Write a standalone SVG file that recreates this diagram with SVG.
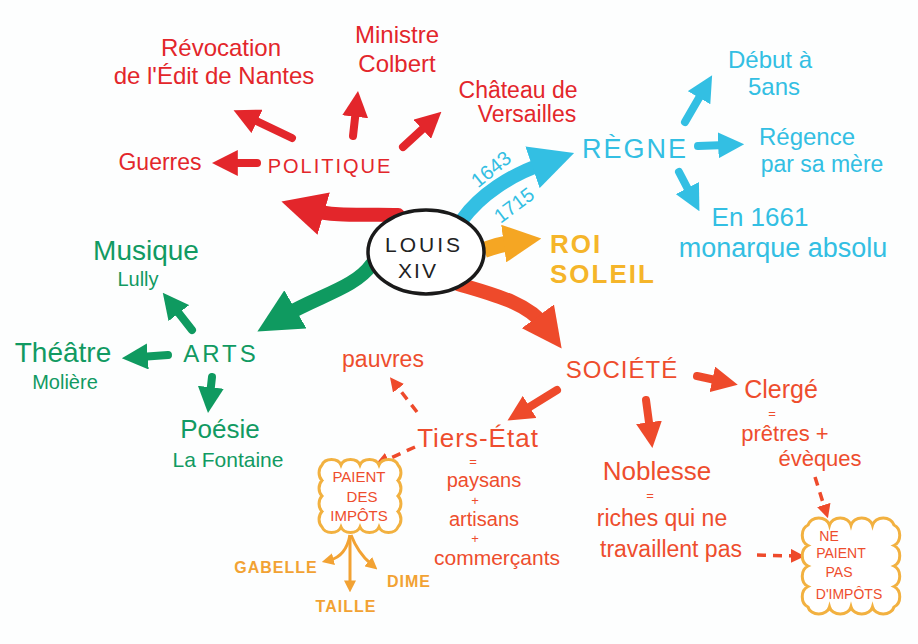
<svg xmlns="http://www.w3.org/2000/svg" width="918" height="644" viewBox="0 0 918 644">
<defs>
<style>
text{font-family:"Liberation Sans",Arial,sans-serif;text-anchor:middle}
.red{fill:#e3262b}
.cyan{fill:#33bfe3}
.yel{fill:#f5b52a}
.org{fill:#ee4d2d}
.grn{fill:#119a62}
.tax{fill:#f2a233;font-weight:bold}
.blk{fill:#222}
.sr{stroke:#e3262b;fill:none}
.sc{stroke:#33bfe3;fill:none}
.sy{stroke:#f5a623;fill:none}
.so{stroke:#ee4a2b;fill:none}
.sg{stroke:#0f9a60;fill:none}
.st{stroke:#f2a233;fill:none;stroke-width:3}
.big{stroke-width:14;stroke-linecap:round}
.mid{stroke-width:8;stroke-linecap:round}
.dash{stroke-width:3.5;stroke-dasharray:9 7}
.cloud{fill:#fff;stroke:#f2b140;stroke-width:3}
</style>
<marker id="mR" viewBox="0 0 10 10" refX="3" refY="5" markerWidth="26" markerHeight="26" markerUnits="userSpaceOnUse" orient="auto"><path d="M0,0L10,5L0,10z" fill="#e3262b"/></marker>
<marker id="mRB" viewBox="0 0 10 10" refX="3" refY="5" markerWidth="44" markerHeight="44" markerUnits="userSpaceOnUse" orient="auto"><path d="M0,0L10,5L0,10z" fill="#e3262b"/></marker>
<marker id="mC" viewBox="0 0 10 10" refX="3" refY="5" markerWidth="26" markerHeight="26" markerUnits="userSpaceOnUse" orient="auto"><path d="M0,0L10,5L0,10z" fill="#33bfe3"/></marker>
<marker id="mCB" viewBox="0 0 10 10" refX="3" refY="5" markerWidth="44" markerHeight="44" markerUnits="userSpaceOnUse" orient="auto"><path d="M0,0L10,5L0,10z" fill="#33bfe3"/></marker>
<marker id="mYB" viewBox="0 0 10 10" refX="3" refY="5" markerWidth="38" markerHeight="38" markerUnits="userSpaceOnUse" orient="auto"><path d="M0,0L10,5L0,10z" fill="#f5a623"/></marker>
<marker id="mO" viewBox="0 0 10 10" refX="3" refY="5" markerWidth="26" markerHeight="26" markerUnits="userSpaceOnUse" orient="auto"><path d="M0,0L10,5L0,10z" fill="#ee4a2b"/></marker>
<marker id="mOB" viewBox="0 0 10 10" refX="3" refY="5" markerWidth="40" markerHeight="40" markerUnits="userSpaceOnUse" orient="auto"><path d="M0,0L10,5L0,10z" fill="#ee4a2b"/></marker>
<marker id="mOD" viewBox="0 0 10 10" refX="3" refY="5" markerWidth="14" markerHeight="14" markerUnits="userSpaceOnUse" orient="auto"><path d="M0,0L10,5L0,10z" fill="#ee4a2b"/></marker>
<marker id="mG" viewBox="0 0 10 10" refX="3" refY="5" markerWidth="26" markerHeight="26" markerUnits="userSpaceOnUse" orient="auto"><path d="M0,0L10,5L0,10z" fill="#0f9a60"/></marker>
<marker id="mGB" viewBox="0 0 10 10" refX="3" refY="5" markerWidth="44" markerHeight="44" markerUnits="userSpaceOnUse" orient="auto"><path d="M0,0L10,5L0,10z" fill="#0f9a60"/></marker>
<marker id="mT" viewBox="0 0 10 10" refX="3" refY="5" markerWidth="12" markerHeight="12" markerUnits="userSpaceOnUse" orient="auto"><path d="M0,0L10,5L0,10z" fill="#f2a233"/></marker>
</defs>
<rect width="918" height="644" fill="#fdfefe"/>

<g id="connectors">
<path class="sr big" d="M398,215 C365,214 335,217 311,210" marker-end="url(#mRB)"/>
<path class="sc big" d="M462,220 C480,195 510,175 545,163" marker-end="url(#mCB)"/>
<path class="sy" stroke-width="16" d="M484,250 Q500,244 515,242" marker-end="url(#mYB)"/>
<path class="so big" d="M458,284 C495,295 528,303 545,326" marker-end="url(#mOB)"/>
<path class="sg big" d="M372,264 C355,288 320,295 284,316" marker-end="url(#mGB)"/>

<path class="sr mid" d="M257,163 L230,163" marker-end="url(#mR)"/>
<path class="sr mid" d="M292,138 L250,118" marker-end="url(#mR)"/>
<path class="sr mid" d="M353,136 L356,109" marker-end="url(#mR)"/>
<path class="sr mid" d="M403,147 L428,124" marker-end="url(#mR)"/>

<path class="sc mid" d="M685,122 L703,91" marker-end="url(#mC)"/>
<path class="sc mid" d="M698,146 L726,145" marker-end="url(#mC)"/>
<path class="sc mid" d="M679,172 L691,195" marker-end="url(#mC)"/>

<path class="sg mid" d="M192,330 L174,307" marker-end="url(#mG)"/>
<path class="sg mid" d="M168,355 L140,357" marker-end="url(#mG)"/>
<path class="sg mid" d="M212,377 L210,395" marker-end="url(#mG)"/>

<path class="so mid" d="M697,376 L720,381" marker-end="url(#mO)"/>
<path class="so mid" d="M646,400 L650,430" marker-end="url(#mO)"/>
<path class="so mid" d="M557,390 L523,411" marker-end="url(#mO)"/>

<path class="so dash" d="M417,412 L396,385" marker-end="url(#mOD)"/>
<path class="so dash" d="M415,447 L384,461" marker-end="url(#mOD)"/>
<path class="so dash" d="M815,477 L825,509" marker-end="url(#mOD)"/>
<path class="so dash" d="M757,555 L795,556" marker-end="url(#mOD)"/>

<path class="st" d="M350,535 Q346,556 330,560" marker-end="url(#mT)"/>
<path class="st" d="M350,535 L350,584" marker-end="url(#mT)"/>
<path class="st" d="M351,535 Q358,553 371,564" marker-end="url(#mT)"/>
</g>

<g id="louis">
<ellipse cx="426" cy="252" rx="58" ry="42" fill="#fff" stroke="#1a1a1a" stroke-width="3.5"/>
<text class="blk" x="424" y="252" font-size="21" letter-spacing="3">LOUIS</text>
<text class="blk" x="418" y="278" font-size="21" letter-spacing="2">XIV</text>
</g>

<g id="politique">
<text class="red" x="330" y="173" font-size="20" letter-spacing="2">POLITIQUE</text>
</g>
<g id="guerres"><text class="red" x="160" y="170" font-size="23">Guerres</text></g>
<g id="revocation">
<text class="red" x="221" y="56" font-size="24">Révocation</text>
<text class="red" x="214" y="84" font-size="24">de l'Édit de Nantes</text>
</g>
<g id="colbert">
<text class="red" x="397" y="43" font-size="24">Ministre</text>
<text class="red" x="397" y="72" font-size="24">Colbert</text>
</g>
<g id="versailles">
<text class="red" x="518" y="98" font-size="23">Château de</text>
<text class="red" x="527" y="122" font-size="23">Versailles</text>
</g>

<g id="regne">
<text class="cyan" x="635" y="158" font-size="27" letter-spacing="2">RÈGNE</text>
<text class="cyan" x="491" y="176" font-size="20" transform="rotate(-39 491 169)">1643</text>
<text class="cyan" x="514" y="212" font-size="20" transform="rotate(-37 514 205)">1715</text>
</g>
<g id="debut">
<text class="cyan" x="770" y="68" font-size="24">Début à</text>
<text class="cyan" x="774" y="95" font-size="24">5ans</text>
</g>
<g id="regence">
<text class="cyan" x="807" y="145" font-size="24">Régence</text>
<text class="cyan" x="822" y="172" font-size="23">par sa mère</text>
</g>
<g id="absolu">
<text class="cyan" x="760" y="226" font-size="26">En 1661</text>
<text class="cyan" x="783" y="257" font-size="27">monarque absolu</text>
</g>

<g id="roisoleil">
<text class="yel" x="550" y="253" font-size="26" font-weight="bold" letter-spacing="2" style="text-anchor:start">ROI</text>
<text class="yel" x="550" y="283" font-size="26" font-weight="bold" letter-spacing="2" style="text-anchor:start">SOLEIL</text>
</g>

<g id="arts"><text class="grn" x="221" y="362" font-size="24" letter-spacing="3">ARTS</text></g>
<g id="musique">
<text class="grn" x="146" y="260" font-size="28">Musique</text>
<text class="grn" x="138" y="286" font-size="20">Lully</text>
</g>
<g id="theatre">
<text class="grn" x="63" y="362" font-size="28">Théâtre</text>
<text class="grn" x="65" y="389" font-size="20">Molière</text>
</g>
<g id="poesie">
<text class="grn" x="220" y="438" font-size="26">Poésie</text>
<text class="grn" x="228" y="467" font-size="21">La Fontaine</text>
</g>

<g id="societe"><text class="org" x="622" y="378" font-size="24" letter-spacing="1">SOCIÉTÉ</text></g>
<g id="clerge">
<text class="org" x="781" y="398" font-size="25">Clergé</text>
<text class="org" x="772" y="418" font-size="13">=</text>
<text class="org" x="785" y="441" font-size="22">prêtres +</text>
<text class="org" x="820" y="466" font-size="22">évèques</text>
</g>
<g id="noblesse">
<text class="org" x="657" y="480" font-size="26">Noblesse</text>
<text class="org" x="650" y="500" font-size="13">=</text>
<text class="org" x="662" y="526" font-size="23">riches qui ne</text>
<text class="org" x="671" y="557" font-size="23">travaillent pas</text>
</g>
<g id="tiers">
<text class="org" x="478" y="447" font-size="26" letter-spacing="1">Tiers-État</text>
<text class="org" x="473" y="466" font-size="13">=</text>
<text class="org" x="484" y="487" font-size="20">paysans</text>
<text class="org" x="475" y="505" font-size="13">+</text>
<text class="org" x="484" y="526" font-size="20">artisans</text>
<text class="org" x="475" y="543" font-size="13">+</text>
<text class="org" x="497" y="565" font-size="21">commerçants</text>
</g>
<g id="pauvres"><text class="org" x="383" y="367" font-size="23">pauvres</text></g>

<g id="paient">
<path class="cloud" d="M322,465 a10,8 0 0 1 19,0 a10,8 0 0 1 19,0 a10,8 0 0 1 19,0 a10,8 0 0 1 19,0 a8,10 0 0 1 0,15.5 a8,10 0 0 1 0,15.5 a8,10 0 0 1 0,15.5 a8,10 0 0 1 0,15.5 a10,8 0 0 1 -19,0 a10,8 0 0 1 -19,0 a10,8 0 0 1 -19,0 a10,8 0 0 1 -19,0 a8,10 0 0 1 0,-15.5 a8,10 0 0 1 0,-15.5 a8,10 0 0 1 0,-15.5 a8,10 0 0 1 0,-15.5z"/>
<text class="org" x="359" y="482" font-size="15">PAIENT</text>
<text class="org" x="362" y="502" font-size="15">DES</text>
<text class="org" x="359" y="521" font-size="15">IMPÔTS</text>
</g>
<g id="gabelle"><text class="tax" x="276" y="573" font-size="16" letter-spacing="1">GABELLE</text></g>
<g id="taille"><text class="tax" x="346" y="612" font-size="16" letter-spacing="1">TAILLE</text></g>
<g id="dime"><text class="tax" x="409" y="587" font-size="16" letter-spacing="1">DIME</text></g>

<g id="nepaient">
<path class="cloud" d="M808,525 a11,9 0 0 1 21.5,0 a11,9 0 0 1 21.5,0 a11,9 0 0 1 21.5,0 a11,9 0 0 1 21.5,0 a9,11 0 0 1 0,20.5 a9,11 0 0 1 0,20.5 a9,11 0 0 1 0,20.5 a9,11 0 0 1 0,20.5 a11,9 0 0 1 -21.5,0 a11,9 0 0 1 -21.5,0 a11,9 0 0 1 -21.5,0 a11,9 0 0 1 -21.5,0 a9,11 0 0 1 0,-20.5 a9,11 0 0 1 0,-20.5 a9,11 0 0 1 0,-20.5 a9,11 0 0 1 0,-20.5z"/>
<text class="org" x="829" y="541" font-size="14">NE</text>
<text class="org" x="841" y="558" font-size="14">PAIENT</text>
<text class="org" x="839" y="577" font-size="14">PAS</text>
<text class="org" x="849" y="599" font-size="14">D'IMPÔTS</text>
</g>
</svg>
